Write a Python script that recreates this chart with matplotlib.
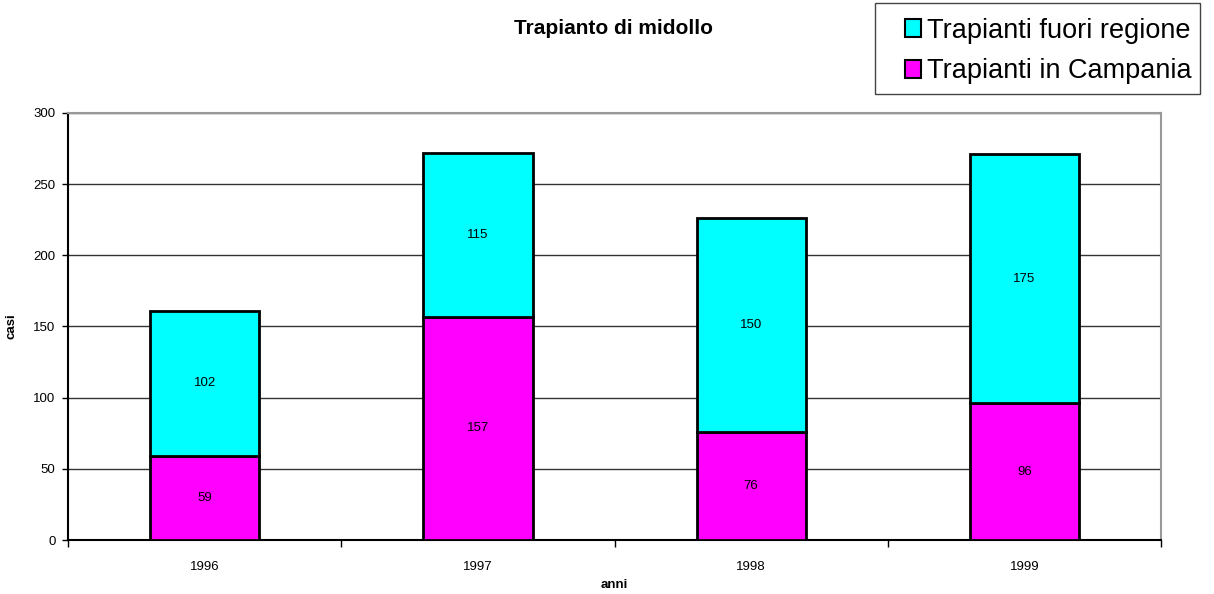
import matplotlib.pyplot as plt
from matplotlib.patches import Rectangle
import numpy as np

plt.rcParams['font.family'] = ['Liberation Sans', 'DejaVu Sans']

# data
anni = ['1996', '1997', '1998', '1999']
campania = [59, 157, 76, 96]
fuori_regione = [102, 115, 150, 175]

fig = plt.figure(figsize=(12.14, 5.94), dpi=100)
ax = fig.add_axes([0.056, 0.0909, 0.9004, 0.7189])

x = np.arange(len(anni))
b1 = ax.bar(x, campania, width=0.4, color='#ff00ff', edgecolor='black', linewidth=2,
            label='Trapianti in Campania', zorder=3)
b2 = ax.bar(x, fuori_regione, width=0.4, bottom=campania, color='#00ffff', edgecolor='black',
            linewidth=2, label='Trapianti fuori regione', zorder=3)

# values in the middle of each segment
for xi, c, f in zip(x, campania, fuori_regione):
    ax.text(xi, c / 2, str(c), ha='center', va='center', fontsize=9.5, zorder=4)
    ax.text(xi, c + f / 2, str(f), ha='center', va='center', fontsize=9.5, zorder=4)

ax.set_xlim(-0.5, len(anni) - 0.5)
ax.set_ylim(0, 300)
ax.set_yticks(range(0, 301, 50))
ax.yaxis.grid(True, color='#333333', linewidth=1)
ax.set_axisbelow(True)

# ticks on category boundaries, labels at centres
ax.set_xticks(np.arange(-0.5, len(anni), 1.0))
ax.set_xticklabels([])
ax.set_xticks(x, minor=True)
ax.set_xticklabels(anni, minor=True)
ax.tick_params(axis='x', which='minor', length=0, pad=15, labelsize=9.5)
ax.tick_params(axis='x', which='major', direction='out', length=5, width=1)
ax.tick_params(axis='y', direction='out', length=4, width=1, labelsize=9.5, pad=5)

for side in ['top', 'right']:
    ax.spines[side].set_color('#999999')
    ax.spines[side].set_linewidth(1.5)
for side in ['left', 'bottom']:
    ax.spines[side].set_color('black')
    ax.spines[side].set_linewidth(1.5)

ax.set_ylabel('casi', fontsize=9.5, fontweight='bold')
ax.yaxis.set_label_coords(-0.0458, 0.5)
ax.set_xlabel('anni', fontsize=9.5, fontweight='bold')
ax.xaxis.label.set_va('center')
ax.xaxis.set_label_coords(0.5, -0.105)

fig.text(0.5057, 0.952, 'Trapianto di midollo', ha='center', va='center', fontsize=15,
         fontweight='bold')

# legend box
fig.patches.append(Rectangle((875 / 1214, 1 - 94 / 594), 325 / 1214, 91 / 594,
                             transform=fig.transFigure, facecolor='white',
                             edgecolor='#444444', linewidth=1))
leg = fig.legend(handles=[b2, b1], loc='center', bbox_to_anchor=(1048 / 1214, 1 - 51 / 594),
                 fontsize=19.5, frameon=False,
                 handlelength=0.6, handleheight=0.6, handletextpad=0.2,
                 borderpad=0, labelspacing=0.55)
for h in leg.legend_handles:
    h.set_linewidth(1.5)

fig.savefig('out.png', dpi=100)
